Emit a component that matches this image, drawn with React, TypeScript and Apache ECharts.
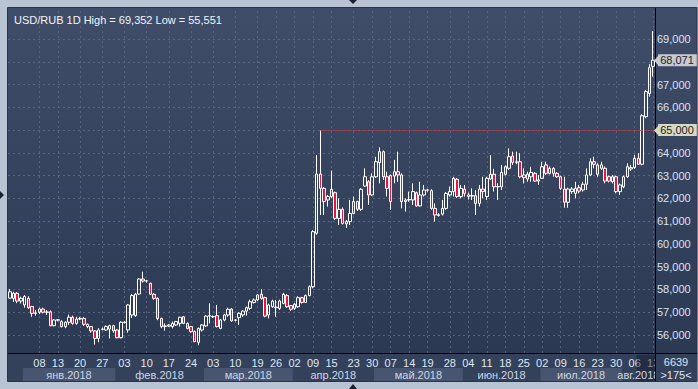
import React, { useEffect, useRef } from "react";
import * as echarts from "echarts";

// [open, close, low, high]
const decCandles: number[][] = [
  [57.62, 57.9, 57.6, 58.02], [57.61, 57.83, 57.45, 57.9], [57.83, 57.49, 57.4, 57.88], [57.49, 57.61, 57.38, 57.68],
];
const janCandles: number[][] = [
  [57.32, 57.69, 57.2, 57.75], [57.61, 57.2, 57.15, 57.7], [57.25, 56.95, 56.8, 57.28], [56.95, 56.97, 56.85, 57.1],
  [57.0, 57.14, 56.92, 57.2], [57.14, 57.0, 56.95, 57.2], [57.0, 57.01, 56.88, 57.1], [57.02, 56.41, 56.38, 57.08],
  [56.41, 56.66, 56.38, 56.7], [56.65, 56.67, 56.6, 56.7], [56.59, 56.37, 56.33, 56.65], [56.37, 56.56, 56.3, 56.6],
  [56.56, 56.78, 56.45, 56.9], [56.78, 56.51, 56.45, 56.85], [56.51, 56.7, 56.45, 56.8], [56.7, 56.73, 56.65, 56.8],
  [56.73, 56.47, 56.4, 56.78], [56.37, 56.47, 56.3, 56.5], [56.37, 56.18, 56.1, 56.4], [56.18, 55.85, 55.58, 56.22],
  [55.85, 56.22, 55.68, 56.3], [56.25, 56.26, 56.2, 56.32], [56.22, 56.37, 56.18, 56.42], [56.26, 56.41, 55.85, 56.45],
  [56.41, 56.18, 56.1, 56.45],
];
const febCandles: number[][] = [
  [56.22, 55.88, 55.85, 56.25], [55.88, 56.56, 55.85, 56.6], [56.55, 56.57, 56.5, 56.6], [56.22, 57.32, 56.1, 57.35],
  [56.88, 57.73, 56.75, 57.8], [56.85, 57.79, 56.8, 57.85], [57.8, 58.46, 57.75, 58.5], [58.46, 58.37, 58.3, 58.78],
  [58.37, 58.38, 58.3, 58.42], [58.27, 57.79, 57.75, 58.3], [57.79, 57.61, 57.55, 57.85], [57.61, 56.73, 56.65, 57.65],
  [56.73, 56.37, 56.3, 56.76], [56.4, 56.38, 56.19, 56.51], [56.39, 56.44, 56.35, 56.48], [56.37, 56.51, 56.29, 56.59],
  [56.44, 56.59, 56.4, 56.62], [56.51, 56.78, 56.37, 56.8], [56.8, 56.51, 56.48, 56.83], [56.51, 56.29, 56.25, 56.55],
  [56.37, 56.15, 56.1, 56.4], [56.15, 55.71, 55.68, 56.2], [55.68, 56.29, 55.551, 56.33], [56.22, 56.44, 56.15, 56.48],
];
const marCandles: number[][] = [
  [56.4, 56.83, 56.35, 56.88], [56.83, 56.85, 56.51, 57.39], [56.81, 56.8, 56.75, 56.86], [56.85, 56.37, 56.33, 57.32],
  [56.29, 56.66, 56.25, 56.7], [56.66, 56.88, 56.6, 56.92], [56.88, 57.13, 56.8, 57.2], [57.14, 56.62, 56.58, 57.18],
  [56.65, 56.66, 56.6, 56.7], [56.76, 56.95, 56.44, 57.0], [56.88, 57.05, 56.8, 57.1], [57.05, 57.2, 56.85, 57.25],
  [57.17, 57.46, 57.1, 57.55], [57.43, 57.54, 57.38, 57.6], [57.54, 57.76, 57.5, 57.8], [57.79, 57.61, 57.55, 58.01],
  [57.64, 56.83, 56.78, 57.68], [56.88, 57.32, 56.73, 57.38], [57.24, 57.49, 57.2, 57.55], [57.2, 57.22, 56.8, 57.54],
  [57.17, 57.49, 57.1, 57.55], [57.39, 57.79, 57.35, 57.85], [57.73, 57.24, 57.2, 57.8], [57.29, 57.13, 57.05, 57.32],
];
const aprCandles: number[][] = [
  [57.17, 57.35, 57.1, 57.4], [57.24, 57.64, 57.2, 57.7], [57.64, 57.43, 57.38, 57.68], [57.43, 57.73, 57.4, 57.78],
  [57.73, 58.12, 57.7, 58.18], [58.12, 60.54, 58.05, 60.6], [60.47, 63.07, 60.4, 63.9], [63.07, 62.44, 61.27, 65.0],
  [62.44, 61.86, 61.27, 62.5], [61.93, 62.08, 61.64, 62.15], [62.08, 62.4, 62.0, 63.22], [62.25, 61.12, 61.05, 62.3],
  [61.12, 61.52, 60.83, 62.0], [61.52, 60.9, 60.85, 61.6], [60.88, 60.98, 60.7, 61.05], [60.98, 61.34, 60.83, 61.93],
  [61.34, 61.86, 61.3, 62.08], [61.86, 61.52, 61.45, 61.9], [61.52, 62.4, 61.45, 62.45], [62.54, 62.95, 62.5, 63.32],
  [62.73, 62.15, 61.71, 62.8], [62.15, 62.95, 62.1, 63.1],
];
const mayCandles: number[][] = [
  [62.95, 63.61, 62.9, 63.83], [63.57, 64.05, 62.66, 64.24], [64.05, 62.95, 62.81, 64.1], [62.95, 62.44, 62.08, 63.17],
  [63.0, 61.86, 61.49, 63.05], [62.98, 63.17, 62.66, 63.69], [63.17, 63.03, 62.73, 64.05], [63.03, 61.86, 61.56, 63.1],
  [61.86, 61.93, 61.42, 62.0], [61.93, 61.95, 61.85, 62.3], [61.93, 62.3, 61.71, 62.66], [62.25, 61.67, 61.64, 62.3],
  [61.67, 62.15, 61.64, 62.73], [62.15, 62.37, 62.08, 62.59], [62.37, 62.36, 62.3, 62.42], [62.34, 61.56, 61.5, 62.4],
  [61.56, 61.27, 60.98, 61.78], [61.25, 61.28, 61.2, 61.35], [61.31, 61.56, 61.25, 61.93], [61.56, 62.22, 61.5, 62.28],
  [62.15, 62.3, 62.08, 62.52], [62.3, 62.88, 62.08, 62.95], [62.84, 62.08, 62.02, 62.9], [62.08, 62.44, 62.0, 62.59],
];
const junCandles: number[][] = [
  [62.4, 62.22, 62.08, 62.59], [62.08, 62.15, 61.95, 62.25], [62.1, 62.12, 61.93, 62.44], [62.12, 61.78, 61.27, 62.37],
  [61.78, 62.41, 61.64, 62.59], [62.41, 62.3, 62.0, 62.95], [62.08, 62.88, 61.93, 62.95], [62.85, 63.06, 62.8, 63.9],
  [63.06, 62.51, 62.3, 63.3], [62.51, 62.52, 61.93, 62.66], [62.51, 63.14, 62.37, 63.47], [63.06, 63.39, 63.0, 63.45],
  [63.32, 63.83, 63.25, 64.2], [63.86, 63.58, 63.47, 64.05], [63.58, 63.61, 63.5, 64.05], [63.61, 62.95, 62.88, 63.98],
  [63.03, 62.91, 62.66, 63.32], [62.85, 63.06, 62.73, 63.17], [62.95, 63.14, 62.73, 63.39], [63.1, 62.76, 62.73, 63.15],
  [62.76, 62.81, 62.59, 63.03],
];
const julCandles: number[][] = [
  [62.88, 63.39, 62.85, 63.61], [63.47, 63.1, 63.03, 63.61], [63.1, 63.32, 63.05, 63.4], [63.32, 63.1, 62.95, 63.36],
  [63.1, 62.95, 62.9, 63.15], [62.95, 62.44, 62.37, 63.0], [62.41, 61.83, 61.59, 62.95], [61.83, 62.41, 61.59, 62.47],
  [62.3, 62.41, 62.2, 62.5], [62.22, 62.44, 62.0, 62.73], [62.47, 62.32, 62.22, 62.59], [62.37, 62.62, 62.3, 62.73],
  [62.62, 63.03, 62.37, 63.32], [63.03, 63.61, 62.98, 63.76], [63.61, 63.5, 63.32, 63.83], [63.47, 63.06, 62.95, 63.54],
  [63.32, 63.47, 63.25, 63.61], [63.32, 62.76, 62.66, 63.4], [62.95, 62.76, 62.7, 63.0], [62.73, 62.95, 62.66, 63.03],
  [62.95, 62.3, 62.22, 63.0], [62.3, 62.59, 62.15, 62.65],
];
const augCandles: number[][] = [
  [62.51, 62.95, 62.45, 63.0], [62.95, 63.39, 62.9, 63.54], [63.29, 63.35, 63.2, 63.47], [63.35, 63.76, 63.3, 63.91],
  [63.76, 63.5, 63.47, 63.98], [63.5, 65.63, 63.45, 65.7], [65.59, 66.69, 65.52, 66.76], [66.61, 67.74, 66.47, 67.89],
  [67.8, 68.071, 67.35, 69.352],
];

const monthCandles = [decCandles, janCandles, febCandles, marCandles, aprCandles, mayCandles, junCandles, julCandles, augCandles];
const monthLabels = ["", "янв.2018", "фев.2018", "мар.2018", "апр.2018", "май.2018", "июн.2018", "июл.2018", "авг.2018"];
const dayTicks: [number, string][] = [
  [8, "08"], [13, "13"], [19, "20"], [25, "27"], [31, "03"], [37, "10"], [43, "17"], [49, "24"],
  [55, "03"], [61, "10"], [67, "19"], [72, "26"], [77, "02"], [82, "09"], [87, "15"], [93, "23"],
  [98, "30"], [103, "07"], [108, "14"], [113, "19"], [119, "28"], [124, "04"], [129, "11"], [134, "18"],
  [139, "25"], [144, "02"], [149, "09"], [154, "16"], [159, "23"], [164, "30"], [169, "06"], [174, "13"],
];
const priceTicks = [56, 57, 58, 59, 60, 61, 62, 63, 64, 65, 66, 67, 68, 69];
const breakoutLevel = 65;
const symbolTitle = "USD/RUB 1D";
const footerValue = "6639";

const candles = monthCandles.flat();
const categories = candles.map((_, i) => String(i));
const fmt = (v: number) => v.toFixed(3).replace(".", ",");
const FONT = "'Liberation Sans', Arial, sans-serif";

export default function App() {
  const ref = useRef<HTMLDivElement>(null);
  useEffect(() => {
    const chart = echarts.init(ref.current!, null, { renderer: "svg" });
    const n = candles.length;
    const tickMap = new Map<number, string>(dayTicks);
    const hi = Math.max(...candles.map((c) => c[3]));
    const lo = Math.min(...candles.map((c) => c[2]));
    const last = candles[n - 1];
    const breakIdx = candles.findIndex((c) => c[3] >= breakoutLevel);
    // axis labels hidden where a price tag covers them
    const tagLevels = [breakoutLevel, last[1]];
    const labelTicks = priceTicks.filter((v) => tagLevels.every((t) => Math.abs(t - v) > 0.45));

    const bands: any[] = [];
    let start = 0;
    monthCandles.forEach((seg, m) => {
      const s = start;
      const e = start + seg.length;
      start = e;
      bands.push([
        {
          xAxis: s - 0.5,
          yAxis: 0,
          name: monthLabels[m],
          itemStyle: { color: m % 2 === 1 ? "#475571" : "rgba(0,0,0,0)" },
        },
        { xAxis: e - 0.5, yAxis: 0.5 },
      ]);
    });
    bands.push([
      { xAxis: n - 5.5, yAxis: 0, name: "", itemStyle: { color: "rgba(15,22,38,0.45)" } },
      { xAxis: n - 0.5, yAxis: 1 },
    ]);

    const gradient = new echarts.graphic.LinearGradient(0, 0, 0, 1, [
      { offset: 0, color: "#404d68" },
      { offset: 1, color: "#2c3953" },
    ]);
    const tagLabel = (text: string, bg: string) => ({
      show: true,
      position: "end",
      distance: 5,
      formatter: text,
      backgroundColor: bg,
      color: "#1e1e1e",
      fontSize: 11,
      padding: [1, 3, 0, 2],
      fontFamily: FONT,
    });

    chart.setOption({
      animation: false,
      backgroundColor: "#b8c4d3",
      textStyle: { fontFamily: FONT },
      title: {
        text: `${symbolTitle} High = ${fmt(hi)} Low = ${fmt(lo)}`,
        left: 9,
        top: 9,
        textStyle: { color: "#f2f4f8", fontSize: 11, fontWeight: "normal", fontFamily: FONT },
      },
      grid: [
        { left: 8, right: 43, top: 8, bottom: 36 },
        { left: 8, right: 43, top: 355, height: 26 },
      ],
      xAxis: [
        {
          type: "category",
          gridIndex: 0,
          data: categories,
          boundaryGap: true,
          axisLine: { show: false },
          axisTick: { show: false },
          splitLine: { show: false },
          axisLabel: {
            interval: (i: number) => tickMap.has(i),
            formatter: (_v: string, i: number) => tickMap.get(i) ?? "",
            color: "#dfe7f3",
            fontSize: 11,
            margin: 4,
            fontFamily: FONT,
          },
        },
        { type: "value", gridIndex: 1, min: -0.5, max: n - 0.5, show: false },
      ],
      yAxis: [
        {
          type: "value",
          gridIndex: 0,
          position: "right",
          min: 55.2095,
          max: 70.361,
          axisLine: { show: false },
          axisTick: { show: false, customValues: labelTicks },
          splitLine: { show: false },
          axisLabel: {
            customValues: labelTicks,
            formatter: (v: number) => fmt(v),
            color: "#d8e4f4",
            fontSize: 11,
            margin: 2,
            fontFamily: FONT,
          },
        },
        { type: "value", gridIndex: 1, min: 0, max: 1, show: false },
      ],
      graphic: [
        { type: "rect", z: -10, shape: { x: 8, y: 8, width: 647, height: 345 }, style: { fill: gradient } },
        { type: "rect", z: -10, shape: { x: 656, y: 8, width: 41, height: 346 }, style: { fill: gradient } },
        { type: "rect", z: -10, shape: { x: 8, y: 354, width: 689, height: 27 }, style: { fill: "#34415b" } },
        { type: "rect", z: 15, shape: { x: 656, y: 354, width: 41, height: 27 }, style: { fill: "#34415b" } },
        { type: "rect", z: -9, shape: { x: 7.5, y: 7.5, width: 689.5, height: 374 }, style: { fill: "none", stroke: "#2a3446", lineWidth: 1 } },
        { type: "line", z: 20, shape: { x1: 655.5, y1: 8, x2: 655.5, y2: 381 }, style: { stroke: "#000", lineWidth: 1 } },
        { type: "line", z: 20, shape: { x1: 8, y1: 353.5, x2: 697, y2: 353.5 }, style: { stroke: "#000", lineWidth: 1 } },
        { type: "polygon", z: 20, shape: { points: [[349, 0], [357, 0], [353, 4]] }, style: { fill: "#1a2030" } },
        { type: "polygon", z: 20, shape: { points: [[349, 389], [357, 389], [353, 384]] }, style: { fill: "#1a2030" } },
        { type: "polygon", z: 20, shape: { points: [[0, 191], [0, 199], [4, 195]] }, style: { fill: "#1a2030" } },
        { type: "polygon", z: 30, shape: { points: [[654, 60.5], [659, 55], [659, 66]] }, style: { fill: "#c6cad1" } },
        { type: "polygon", z: 30, shape: { points: [[654, 130.5], [659, 125], [659, 136]] }, style: { fill: "#d8d9c3" } },
        {
          type: "text",
          z: 20,
          x: 676,
          y: 362,
          style: { text: footerValue, fill: "#dbe4f1", font: `11px ${FONT}`, textAlign: "center", textVerticalAlign: "middle" },
        },
        {
          type: "text",
          z: 20,
          x: 676,
          y: 375,
          style: { text: `>${n}<`, fill: "#dbe4f1", font: `11px ${FONT}`, textAlign: "center", textVerticalAlign: "middle" },
        },
      ],
      series: [
        {
          type: "line",
          xAxisIndex: 0,
          yAxisIndex: 0,
          data: [],
          silent: true,
          z: 1,
          markLine: {
            silent: true,
            z: 1,
            symbol: "none",
            label: { show: false },
            lineStyle: { color: "#56647f", type: [2, 3], width: 1 },
            data: [
              ...dayTicks.map(([i]) => ({ xAxis: i })),
              ...priceTicks.map((v) => ({ yAxis: v })),
            ],
          },
        },
        {
          type: "candlestick",
          xAxisIndex: 0,
          yAxisIndex: 0,
          data: candles,
          barWidth: 3,
          z: 3,
          itemStyle: {
            color: "rgba(0,0,0,0)",
            color0: "#e8163e",
            borderColor: "#ffffff",
            borderColor0: "#ffffff",
            borderWidth: 1,
          },
          markLine: {
            silent: true,
            z: 6,
            symbol: "none",
            data: [
              [
                {
                  coord: [breakIdx, breakoutLevel],
                  lineStyle: { color: "#e4262e", type: [2, 3], width: 1 },
                  label: tagLabel(fmt(breakoutLevel), "#d8d9c3"),
                },
                { coord: [n - 1, breakoutLevel] },
              ],
              [
                {
                  coord: [n - 2, last[1]],
                  lineStyle: { color: "rgba(0,0,0,0)", width: 0 },
                  label: tagLabel(fmt(last[1]), "#c6cad1"),
                },
                { coord: [n - 1, last[1]] },
              ],
            ],
          },
        },
        {
          type: "line",
          xAxisIndex: 1,
          yAxisIndex: 1,
          data: [],
          silent: true,
          markArea: {
            silent: true,
            label: { show: true, position: "inside", color: "#cdd6e4", fontSize: 11, fontFamily: FONT },
            data: bands,
          },
        },
      ],
    });
    return () => chart.dispose();
  }, []);
  return <div ref={ref} style={{ position: "absolute", left: 0, top: 0, width: 698, height: 389 }} />;
}
